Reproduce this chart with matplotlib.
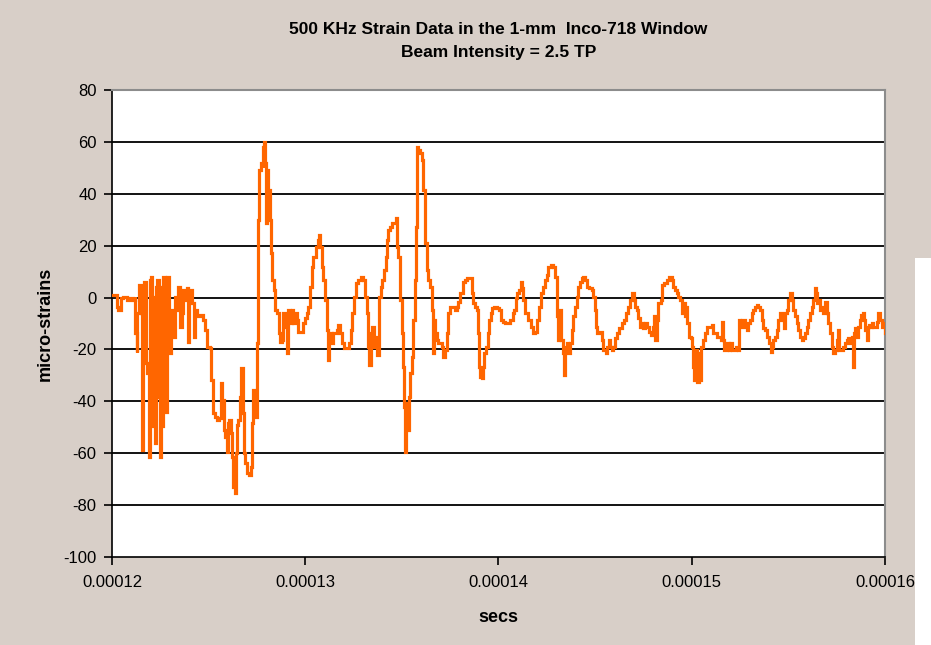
import matplotlib
matplotlib.use("Agg")
import matplotlib.pyplot as plt
from matplotlib.patches import Rectangle

# Strain gauge record: time in microseconds, strain in micro-strains
time_us = [
    120.07, 120.24, 120.33, 120.45, 120.59, 120.76, 120.93, 121.10, 121.17, 121.21,
    121.28, 121.31, 121.41, 121.48, 121.57, 121.62, 121.67, 121.76, 121.83, 121.91,
    121.97, 122.02, 122.09, 122.16, 122.23, 122.28, 122.35, 122.42, 122.48, 122.54,
    122.60, 122.66, 122.74, 122.81, 122.86, 122.93, 122.97, 123.04, 123.10, 123.16,
    123.24, 123.35, 123.42, 123.52, 123.61, 123.69, 123.78, 123.86, 123.93, 124.00,
    124.12, 124.23, 124.30, 124.42, 124.55, 124.69, 124.80, 124.90, 125.07, 125.12,
    125.21, 125.33, 125.45, 125.55, 125.62, 125.71, 125.78, 125.86, 125.93, 126.00,
    126.07, 126.16, 126.21, 126.28, 126.37, 126.42, 126.45, 126.54, 126.62, 126.69,
    126.76, 126.81, 126.90, 126.97, 127.11, 127.18, 127.23, 127.28, 127.37, 127.43,
    127.49, 127.56, 127.62, 127.73, 127.80, 127.83, 127.88, 127.94, 127.97, 128.02,
    128.09, 128.16, 128.23, 128.30, 128.38, 128.45, 128.56, 128.64, 128.69,
    128.78, 128.87, 128.95, 129.04, 129.13, 129.21, 129.30, 129.38, 129.47, 129.56,
    129.64, 129.76, 129.87, 129.99, 130.07, 130.16, 130.25, 130.33, 130.42, 130.56,
    130.64, 130.71, 130.78, 130.85, 130.94, 131.02, 131.11, 131.16, 131.23, 131.32,
    131.39, 131.45, 131.54, 131.63, 131.71, 131.80, 131.89, 132.01, 132.14, 132.27,
    132.35, 132.44, 132.52, 132.63, 132.75, 132.87, 132.97, 133.09, 133.18, 133.27,
    133.32, 133.39, 133.47, 133.56, 133.64, 133.73, 133.82, 133.90, 133.99, 134.08,
    134.16, 134.21, 134.30, 134.39, 134.51, 134.61, 134.68, 134.73, 134.82, 134.90,
    134.99, 135.08, 135.13, 135.18, 135.23, 135.30, 135.35, 135.42, 135.51, 135.59,
    135.68, 135.73, 135.78, 135.85, 135.94, 136.03, 136.11, 136.20, 136.28, 136.37,
    136.46, 136.54, 136.60, 136.66, 136.73, 136.80, 136.89, 136.97, 137.06, 137.15,
    137.23, 137.32, 137.41, 137.49, 137.63, 137.75, 137.84, 137.92, 138.01, 138.15,
    138.27, 138.39, 138.49, 138.61, 138.70,
    138.79, 138.87, 138.92, 138.97, 139.04, 139.13, 139.18, 139.25, 139.35, 139.44,
    139.53, 139.60, 139.68, 139.79, 139.91, 140.04, 140.13, 140.22, 140.34, 140.51,
    140.60, 140.73, 140.82, 140.89, 140.98, 141.08, 141.17, 141.22, 141.29, 141.37,
    141.46, 141.55, 141.67, 141.77, 141.89, 142.01, 142.10, 142.18, 142.29, 142.41,
    142.49, 142.58, 142.70, 142.84, 142.92, 143.01, 143.06, 143.13, 143.18, 143.25,
    143.32, 143.37, 143.44, 143.53, 143.62, 143.70, 143.79, 143.87, 143.96, 144.05,
    144.13, 144.22, 144.31, 144.39, 144.48, 144.56, 144.68, 144.82, 144.91, 144.99,
    145.05, 145.12, 145.22, 145.34, 145.43, 145.56, 145.63, 145.70, 145.77, 145.86,
    145.94, 146.03, 146.12, 146.25, 146.38, 146.50, 146.60, 146.72, 146.81, 146.91,
    147.01, 147.08, 147.15, 147.24, 147.32, 147.41, 147.50, 147.60, 147.70, 147.81,
    147.91, 147.98, 148.05, 148.12, 148.19, 148.27, 148.39, 148.48, 148.57, 148.70,
    148.84, 148.96, 149.05,
    149.14, 149.22, 149.31, 149.39, 149.48, 149.57, 149.65, 149.70, 149.77, 149.84,
    149.95, 150.02, 150.08, 150.14, 150.20, 150.29, 150.36, 150.43, 150.50, 150.60,
    150.70, 150.77, 150.91, 151.03, 151.12, 151.21, 151.29, 151.43, 151.52, 151.57,
    151.64, 151.67, 151.76, 151.84, 151.91, 151.98, 152.09, 152.19, 152.29, 152.38,
    152.45, 152.50, 152.59, 152.67, 152.76, 152.84, 152.93, 153.02, 153.10, 153.19,
    153.28, 153.36, 153.45, 153.53, 153.62, 153.71, 153.81, 153.88, 153.98, 154.09,
    154.16, 154.22, 154.31, 154.40, 154.48, 154.57, 154.65, 154.74, 154.79, 154.84,
    154.91, 155.00, 155.09, 155.17, 155.26, 155.35, 155.43, 155.52, 155.60, 155.69,
    155.78, 155.86, 155.95, 156.04, 156.12, 156.21, 156.29, 156.36, 156.43, 156.50,
    156.57, 156.64, 156.72, 156.81, 156.90, 156.98, 157.07, 157.16, 157.24, 157.33,
    157.42, 157.50, 157.55, 157.61, 157.71, 157.85, 157.93, 158.02, 158.10, 158.19,
    158.28, 158.33, 158.40, 158.47, 158.54, 158.62, 158.71, 158.78, 158.85, 158.92,
    158.99, 159.05, 159.12, 159.19, 159.26, 159.33, 159.40, 159.49, 159.57, 159.66,
    159.74, 159.83, 159.92, 160.00,
]

strain = [
    1.0, -3.5, -4.8, -0.3, 0.4, -0.9, -0.3, -0.9, 0.4, -13.8,
    -20.8, -6.1, 4.9, -6.1, -58.7, -6.1, 6.1, -25.3, -29.2, -61.3,
    6.8, 8.1, -49.7, 0.4, -56.2, 4.2, 6.8, -38.2, -61.3, 4.2,
    -49.7, 8.1, -18.9, -44.0, 8.1, 8.1, -21.5, -8.6, -4.8, -15.1,
    0.4, -4.8, 4.2, -11.2, -6.1, 3.0, -0.9, 3.6, -17.0, 3.0,
    -2.2, -15.1, -4.8, -7.3, -6.7, -8.6, -12.5, -18.9, -19.5, -31.8,
    -44.6, -45.9, -47.2, -46.5, -33.0, -39.5, -51.0, -53.6, -59.4, -48.5,
    -47.2, -52.3, -61.3, -72.9, -75.4, -60.0, -49.1, -47.2, -38.2, -27.3,
    -44.6, -60.0, -63.9, -67.7, -68.4, -65.2, -48.5, -35.6, -39.5, -45.9,
    -17.6, 29.9, 49.2, 51.7, 50.5, 58.2, 60.1, 51.7, 28.6, 49.2,
    41.5, 29.9, 17.1, 6.8, 3.0, -4.8, -6.1, -13.8, -17.0,
    -16.3, -6.1, -11.2, -21.5, -4.8, -9.9, -4.8, -9.9, -6.1, -8.6,
    -13.1, -13.1, -9.9, -8.0, -6.1, -3.5, 4.2, 11.9, 15.8, 19.6,
    22.2, 24.1, 19.6, 11.9, 6.8, -0.9, -12.5, -24.0, -16.3, -13.8,
    -17.6, -13.8, -13.8, -12.5, -10.6, -13.8, -17.6, -19.5, -19.5, -17.6,
    -12.5, -6.1, 0.4, 5.5, 6.8, 8.1, 6.8, 0.4, -6.1, -18.9,
    -26.0, -13.8, -11.2, -18.9, -15.1, -22.1, 0.4, 4.2, 6.8, 10.6,
    15.8, 22.2, 26.1, 27.3, 28.6, 28.6, 30.6, 19.6, 15.8, -0.9,
    -13.8, -26.6, -42.0, -59.4, -40.7, -51.0, -38.2, -29.2, -22.8, -8.6,
    6.8, 27.3, 58.2, 56.9, 55.6, 53.0, 41.5, 20.9, 10.6, 6.8,
    4.2, -4.8, -21.5, -8.6, -13.8, -16.3, -17.6, -17.6, -18.9, -22.8,
    -20.2, -13.8, -6.1, -3.5, -3.5, -4.8, -3.5, -1.6, 1.7, 6.1,
    6.8, 7.4, 7.4, 1.7, -2.2,
    -3.5, -4.8, -13.8, -26.6, -30.5, -31.1, -26.6, -21.5, -18.9, -13.8,
    -8.6, -6.1, -4.1, -3.5, -4.1, -4.8, -8.6, -9.3, -9.9, -9.9,
    -8.6, -6.1, -4.8, -0.3, 1.7, 3.0, 6.1, 3.6, -0.9, -6.1,
    -6.1, -8.6, -11.2, -13.8, -13.1, -8.6, -3.5, 1.7, 4.2, 6.8,
    8.7, 11.9, 12.6, 11.9, 8.1, -7.3, -16.3, -6.1, -4.8, -16.3,
    -21.5, -29.8, -18.9, -17.6, -21.5, -17.6, -12.5, -7.3, -3.5, 0.4,
    4.2, 6.1, 7.4, 7.8, 6.8, 4.2, 3.6, 3.0, 0.4, -4.8,
    -11.2, -13.8, -13.1, -16.3, -20.2, -21.5, -18.9, -16.3, -18.9, -20.2,
    -18.9, -15.7, -13.8, -11.8, -9.9, -8.6, -6.1, -3.5, -0.9, 1.7,
    -0.9, -3.5, -4.8, -8.0, -11.2, -9.9, -11.8, -9.9, -11.2, -13.1,
    -14.4, -11.2, -7.3, -16.3, -8.6, -2.2, -0.9, 4.9, 5.5, 6.8,
    8.1, 6.8, 4.2,
    3.0, 1.7, 0.4, -0.9, -6.1, -2.2, -7.3, -3.5, -9.9, -15.1,
    -15.7, -18.9, -26.6, -31.8, -20.2, -32.4, -21.5, -31.8, -18.9, -16.3,
    -13.8, -11.2, -11.2, -10.6, -13.8, -13.8, -15.1, -15.1, -16.3, -9.3,
    -16.3, -20.2, -20.2, -17.6, -20.2, -17.6, -20.2, -20.2, -18.9, -20.2,
    -8.6, -11.2, -8.6, -8.6, -11.2, -12.5, -9.9, -8.6, -6.1, -4.8,
    -3.5, -2.8, -3.5, -4.8, -8.6, -11.8, -12.5, -15.1, -17.6, -20.8,
    -18.9, -16.3, -15.1, -12.5, -8.6, -6.1, -7.3, -8.6, -11.8, -6.1,
    -4.8, -0.9, 1.7, -0.9, -4.8, -7.3, -9.9, -12.5, -15.1, -16.3,
    -15.7, -13.8, -11.2, -8.6, -6.1, -3.5, -0.9, 3.6, 1.7, -2.2,
    -0.9, -4.8, -3.5, -6.1, -1.6, -6.1, -9.9, -13.8, -18.9, -21.5,
    -20.2, -16.3, -12.5, -20.2, -20.2, -18.9, -17.6, -16.3, -15.7, -17.6,
    -15.1, -26.6, -13.8, -11.8, -15.1, -11.2, -8.6, -6.7, -6.1, -8.6,
    -12.5, -16.3, -11.2, -10.6, -11.2, -9.9, -11.2, -11.2, -9.3, -6.1,
    -8.6, -11.2, -9.9, -13.8,
]

x_ticks = [0.00012, 0.00013, 0.00014, 0.00015, 0.00016]
x_tick_labels = ["0.00012", "0.00013", "0.00014", "0.00015", "0.00016"]
y_ticks = [-100, -80, -60, -40, -20, 0, 20, 40, 60, 80]

title_text = "500 KHz Strain Data in the 1-mm  Inco-718 Window\nBeam Intensity = 2.5 TP"
x_label = "secs"
y_label = "micro-strains"

BEIGE = "#D8CFC8"
ORANGE = "#FF6600"

plt.rcParams["font.family"] = ["Liberation Sans", "DejaVu Sans"]
plt.rcParams["axes.unicode_minus"] = False

fig = plt.figure(figsize=(9.31, 6.45), dpi=100, facecolor=BEIGE)
# white strip along the lower right edge
fig.patches.append(Rectangle((915 / 931, 0), 16 / 931, 387 / 645,
                             transform=fig.transFigure, facecolor="white",
                             edgecolor="none", zorder=0))

ax = fig.add_axes([112 / 931, 88 / 645, 773 / 931, 467 / 645])
ax.set_facecolor("white")

t_sec = [t * 1e-6 for t in time_us]
ax.plot(t_sec, strain, color=ORANGE, linewidth=2.3, drawstyle="steps-post",
        solid_joinstyle="miter", zorder=3)

ax.set_xlim(x_ticks[0], x_ticks[-1])
ax.set_ylim(y_ticks[0], y_ticks[-1])
ax.set_xticks(x_ticks)
ax.set_xticklabels(x_tick_labels)
ax.set_yticks(y_ticks)
ax.set_yticklabels([str(v) for v in y_ticks])

# horizontal gridlines at every major value except the top edge
for v in y_ticks[1:-1]:
    ax.axhline(v, color="black", linewidth=1.3, zorder=1)

for side in ("top", "right"):
    ax.spines[side].set_color("#8C8C8C")
    ax.spines[side].set_linewidth(1.5)
for side in ("left", "bottom"):
    ax.spines[side].set_color("black")
    ax.spines[side].set_linewidth(1.2)

ax.tick_params(axis="both", direction="out", length=6, width=1.2, color="black",
               labelsize=12, pad=5)
ax.tick_params(axis="x", pad=7)

ax.set_xlabel(x_label, fontsize=13, fontweight="bold", labelpad=14)
ax.set_ylabel(y_label, fontsize=13, fontweight="bold", labelpad=7)
fig.text((112 + 885) / 2 / 931, 1 - 41 / 645, title_text, ha="center", va="center",
         fontsize=12.5, fontweight="bold", linespacing=1.6)

fig.savefig("out.png", dpi=100, facecolor=BEIGE)
